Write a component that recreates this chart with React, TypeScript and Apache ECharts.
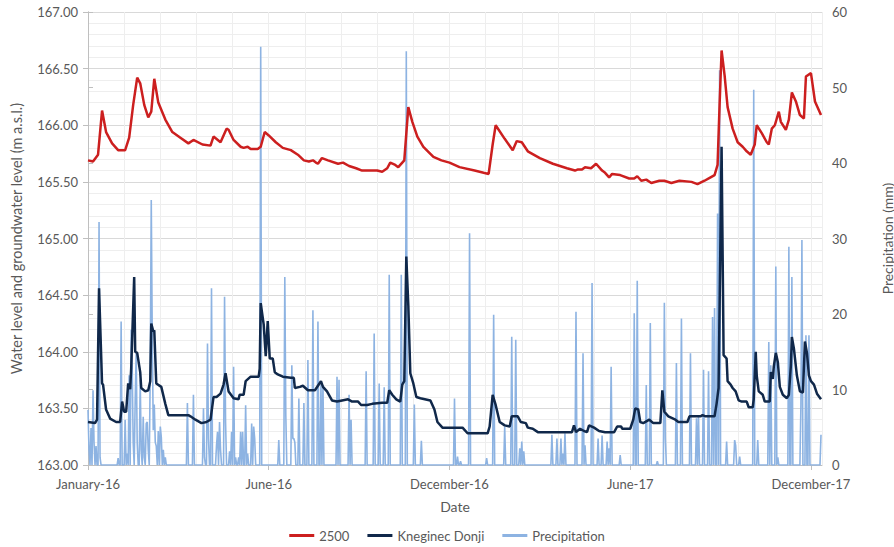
import React, { useEffect, useRef } from "react";
import * as echarts from "echarts";

// Day index counted from 1 January 2016 (0 = 2016-01-01, 730 = 2017-12-31)
const TOTAL_DAYS = 731;
const xTickLabels = ["January-16", "June-16", "December-16", "June-17", "December-17"];

// Station "2500" water level (m a.s.l.)
const days2500 = [0,5,10,14,18,24,30,37,41,45,49,52,56,60,63,66,70,77,84,92,100,105,114,122,125,132,138,140,145,152,155,159,162,169,172,176,180,187,194,202,209,215,220,224,227,229,233,239,249,254,260,267,273,280,288,293,298,301,306,309,315,319,323,328,334,344,352,360,370,385,394,399,403,406,415,423,427,432,438,450,463,477,485,488,492,495,501,506,512,515,519,522,530,539,544,547,551,556,561,569,574,581,589,601,607,614,620,624,627,629,631,634,637,642,647,652,656,660,664,666,671,676,678,681,684,688,690,695,698,701,705,709,713,715,720,724,730];
const level2500 = [165.69,165.68,165.74,166.13,165.94,165.84,165.78,165.78,165.89,166.18,166.42,166.37,166.18,166.07,166.12,166.41,166.20,166.05,165.94,165.89,165.84,165.87,165.83,165.82,165.90,165.85,165.97,165.96,165.87,165.81,165.80,165.81,165.79,165.79,165.81,165.94,165.91,165.85,165.80,165.78,165.74,165.69,165.68,165.69,165.67,165.66,165.71,165.69,165.66,165.67,165.64,165.62,165.60,165.60,165.60,165.59,165.62,165.67,165.65,165.63,165.69,166.16,166.03,165.90,165.81,165.72,165.69,165.67,165.63,165.60,165.58,165.57,165.83,166.00,165.88,165.78,165.86,165.85,165.77,165.71,165.66,165.62,165.60,165.61,165.61,165.63,165.62,165.66,165.60,165.58,165.54,165.57,165.56,165.53,165.53,165.55,165.51,165.52,165.49,165.51,165.51,165.49,165.51,165.50,165.48,165.51,165.54,165.56,165.65,166.18,166.66,166.44,166.16,165.97,165.85,165.81,165.77,165.74,165.83,166.00,165.93,165.85,165.83,165.97,166.00,166.12,166.03,165.96,166.05,166.29,166.21,166.09,166.06,166.43,166.46,166.21,166.09];

// Kneginec Donji groundwater level (m a.s.l.)
const daysKneginec = [0,7,9,11,14,15,18,22,28,32,34,36,38,40,42,43,46,47,49,52,53,57,60,62,63,65,66,68,73,77,80,92,100,102,107,113,118,122,125,128,132,135,137,140,145,150,151,155,157,162,170,171,172,175,177,179,181,184,186,189,194,202,205,206,211,214,219,226,229,232,234,238,243,248,253,259,263,269,272,278,283,293,298,300,303,307,311,313,315,317,319,321,324,327,331,341,345,348,353,360,373,378,388,398,400,403,406,410,415,420,422,428,431,436,438,443,448,475,482,484,486,490,494,497,499,504,509,515,524,527,531,532,540,543,545,548,550,553,559,563,570,572,574,578,585,588,597,599,610,612,615,622,624,626,628,631,633,636,637,640,642,645,648,651,656,658,662,663,665,666,668,672,674,679,680,682,683,685,687,689,692,696,698,700,701,703,706,709,712,714,716,718,720,723,726,730];
const levelKneginec = [163.38,163.37,163.40,164.56,163.72,163.71,163.49,163.41,163.38,163.38,163.56,163.47,163.47,163.72,163.67,163.85,164.66,164.00,163.99,163.82,163.68,163.65,163.66,163.74,164.25,164.18,164.19,163.72,163.69,163.54,163.44,163.44,163.44,163.43,163.40,163.37,163.38,163.40,163.60,163.60,163.63,163.71,163.81,163.65,163.59,163.58,163.62,163.62,163.74,163.78,163.78,163.85,164.43,164.24,163.96,164.27,163.94,163.94,163.82,163.80,163.78,163.77,163.77,163.68,163.69,163.70,163.66,163.66,163.70,163.74,163.69,163.65,163.57,163.56,163.57,163.58,163.56,163.56,163.53,163.53,163.54,163.55,163.55,163.66,163.62,163.58,163.56,163.71,163.74,164.84,164.41,163.81,163.72,163.60,163.59,163.57,163.49,163.38,163.33,163.33,163.33,163.28,163.28,163.28,163.34,163.62,163.53,163.38,163.35,163.34,163.43,163.43,163.38,163.37,163.33,163.32,163.29,163.29,163.29,163.35,163.29,163.32,163.30,163.29,163.35,163.33,163.30,163.29,163.29,163.34,163.34,163.32,163.32,163.40,163.50,163.49,163.38,163.37,163.40,163.37,163.37,163.66,163.47,163.43,163.40,163.38,163.38,163.43,163.43,163.44,163.43,163.43,163.43,163.54,163.68,165.81,163.97,163.94,163.74,163.71,163.68,163.65,163.57,163.56,163.56,163.51,163.51,163.58,164.00,163.79,163.65,163.62,163.56,163.56,163.82,163.76,163.87,163.99,163.91,163.69,163.62,163.59,163.62,163.88,164.13,164.03,163.79,163.65,163.64,164.09,163.99,163.79,163.74,163.71,163.63,163.58];

// Daily precipitation (mm): rainy days only, all other days are 0 mm
const rainDays = [0,1,3,5,6,8,11,12,30,33,37,39,41,43,44,45,47,48,49,52,53,55,56,58,59,60,62,63,64,65,66,67,68,70,72,73,75,77,99,105,115,116,119,120,123,128,129,131,132,136,137,141,143,145,147,150,152,154,157,159,163,165,166,172,190,196,197,203,204,205,206,210,215,219,224,229,232,234,248,250,260,262,277,285,290,295,300,312,317,325,332,365,368,371,380,397,404,415,422,426,430,432,434,462,467,471,473,475,486,493,495,502,508,512,517,519,521,530,544,547,556,560,567,574,575,586,591,600,606,608,613,618,622,624,627,629,636,644,645,649,663,667,678,680,685,687,698,701,710,711,715,718,730];
const rainMm = [7.3,2.0,4.9,9.9,3.0,2.5,32.2,1.0,0.9,19.0,6.0,1.5,11.9,17.9,13.0,3.0,8.6,14.8,3.0,11.3,2.0,6.4,1.0,5.5,5.7,2.0,12.6,35.1,16.8,4.6,8.0,3.0,2.5,4.5,5.1,3.7,2.0,1.0,8.2,9.3,7.5,1.0,16.1,3.5,23.4,2.6,4.4,5.7,2.0,22.3,5.7,1.8,4.4,13.0,1.0,1.0,4.4,4.4,7.9,1.5,5.5,5.1,3.5,55.4,3.3,24.9,6.6,13.2,3.5,3.5,3.0,8.8,8.2,13.9,20.5,19.0,10.6,10.6,11.7,11.3,9.3,6.0,12.4,17.4,10.8,10.3,25.2,25.2,54.8,8.0,3.2,8.8,1.1,0.5,30.7,0.9,19.9,5.1,17.0,16.6,2.2,3.1,1.8,4.0,3.5,3.5,1.5,4.2,20.3,14.8,2.6,24.1,3.5,3.9,3.1,2.2,13.0,1.3,20.1,24.4,10.6,18.8,0.5,21.5,3.5,13.5,19.4,14.8,6.2,6.6,12.6,12.4,19.6,20.8,33.3,52.3,3.1,3.3,2.6,1.1,49.7,3.3,16.3,13.2,26.3,1.0,28.9,24.9,7.9,29.8,17.2,17.2,4.0];

const AXIS_GRAY = "#bfbfbf";
const TEXT_GRAY = "#595959";
const FONT = "Lato, 'Open Sans', sans-serif";

export default function App() {
  const ref = useRef<HTMLDivElement | null>(null);

  useEffect(() => {
    if (!ref.current) return;
    const chart = echarts.init(ref.current, undefined, { renderer: "svg" });

    const pairs = (xs: number[], ys: number[]) => xs.map((d, i) => [d, ys[i]]);
    const rainByDay = new Map<number, number>();
    rainDays.forEach((d, i) => rainByDay.set(d, rainMm[i]));
    const precipSeries: number[][] = [];
    for (let d = 0; d < TOTAL_DAYS; d++) precipSeries.push([d, rainByDay.get(d) ?? 0]);

    chart.setOption({
      animation: false,
      textStyle: { fontFamily: FONT },
      grid: { left: 88, right: 72, top: 12, bottom: 82, containLabel: false, outerBoundsMode: "none" },
      legend: {
        top: 524,
        left: "center",
        itemWidth: 25,
        itemHeight: 3,
        itemGap: 18,
        icon: "rect",
        textStyle: { color: TEXT_GRAY, fontSize: 13, fontFamily: FONT },
        data: ["2500", "Kneginec Donji", "Precipitation"],
      },
      xAxis: [
        {
          type: "value",
          min: 0,
          max: TOTAL_DAYS,
          interval: 180,
          position: "bottom",
          name: "Date",
          nameLocation: "middle",
          nameGap: 34,
          nameTextStyle: { color: TEXT_GRAY, fontSize: 14, fontFamily: FONT },
          axisLine: { show: true, lineStyle: { color: AXIS_GRAY } },
          axisTick: { show: true, length: 5, lineStyle: { color: AXIS_GRAY } },
          axisLabel: {
            color: TEXT_GRAY,
            fontSize: 13,
            fontFamily: FONT,
            margin: 12,
            showMaxLabel: false,
            formatter: (v: number) => xTickLabels[Math.round(v / 180)] ?? "",
          },
          splitLine: { show: true, lineStyle: { color: "#d9d9d9", width: 1 } },
        },
        {
          type: "value",
          min: 0,
          max: TOTAL_DAYS,
          interval: 36,
          position: "top",
          axisLine: { show: false },
          axisTick: { show: false },
          axisLabel: { show: false },
          splitLine: { show: true, lineStyle: { color: "#eeeeee", width: 1 } },
        },
      ],
      yAxis: [
        {
          type: "value",
          min: 163,
          max: 167,
          interval: 0.5,
          position: "left",
          name: "Water level and groundwater level (m a.s.l.)",
          nameLocation: "middle",
          nameRotate: 90,
          nameGap: 64,
          nameTextStyle: { color: TEXT_GRAY, fontSize: 14.5, fontFamily: FONT },
          axisLine: { show: true, lineStyle: { color: AXIS_GRAY } },
          axisTick: { show: true, length: 5, lineStyle: { color: AXIS_GRAY } },
          axisLabel: {
            color: TEXT_GRAY,
            fontSize: 13,
            fontFamily: FONT,
            margin: 10,
            formatter: (v: number) => v.toFixed(2),
          },
          splitLine: { show: true, lineStyle: { color: "#d9d9d9", width: 1 } },
          minorTick: { show: false, splitNumber: 5 },
          minorSplitLine: { show: true, lineStyle: { color: "#eeeeee", width: 1 } },
        },
        {
          type: "value",
          min: 0,
          max: 60,
          interval: 10,
          position: "right",
          name: "Precipitation (mm)",
          nameLocation: "middle",
          nameRotate: 90,
          nameGap: 58,
          nameTextStyle: { color: TEXT_GRAY, fontSize: 14, fontFamily: FONT },
          axisLine: { show: true, lineStyle: { color: AXIS_GRAY } },
          axisTick: { show: true, length: 5, lineStyle: { color: AXIS_GRAY } },
          axisLabel: { color: TEXT_GRAY, fontSize: 13, fontFamily: FONT, margin: 10 },
          splitLine: { show: false },
        },
      ],
      series: [
        {
          name: "Precipitation",
          type: "line",
          xAxisIndex: 0,
          yAxisIndex: 1,
          data: precipSeries,
          showSymbol: false,
          symbol: "none",
          z: 2,
          color: "#8db3e2",
          lineStyle: { color: "#8db3e2", width: 1.6 },
        },
        {
          name: "2500",
          type: "line",
          xAxisIndex: 0,
          yAxisIndex: 0,
          data: pairs(days2500, level2500),
          showSymbol: false,
          symbol: "none",
          z: 3,
          color: "#cc1f1f",
          lineStyle: { color: "#cc1f1f", width: 2.5 },
        },
        {
          name: "Kneginec Donji",
          type: "line",
          xAxisIndex: 0,
          yAxisIndex: 0,
          data: pairs(daysKneginec, levelKneginec),
          showSymbol: false,
          symbol: "none",
          z: 4,
          color: "#10284a",
          lineStyle: { color: "#10284a", width: 2.5 },
        },
      ],
    });

    return () => chart.dispose();
  }, []);

  return (
    <div
      ref={ref}
      style={{ position: "fixed", left: 0, top: 0, width: 894, height: 547, background: "#ffffff" }}
    />
  );
}
